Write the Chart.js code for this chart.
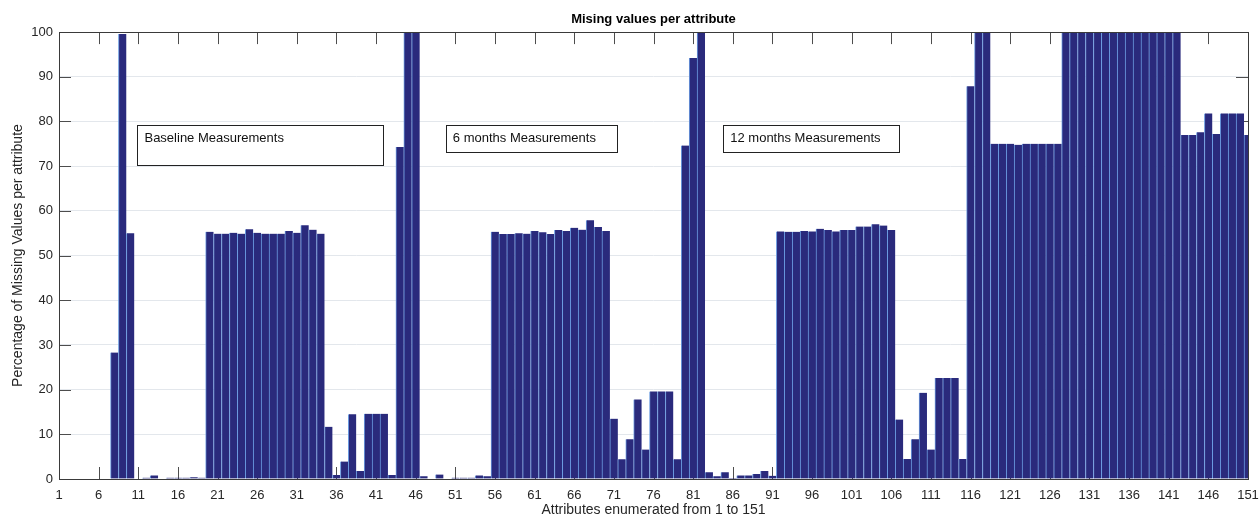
<!DOCTYPE html>
<html lang="en">
<head>
  <meta charset="UTF-8">
  <title>Mising values per attribute</title>
  <script src="https://cdn.jsdelivr.net/npm/chart.js"></script>
  <style>
    body { margin: 0; background: #fff; }
  </style>
</head>
<body>
  <canvas id="missingChart" width="1260" height="521"></canvas>

  <script>
    // attribute numbers 1..151 (x positions)
    const attributes = Array.from({ length: 151 }, (_, i) => i + 1);
    const xTickLabels = [1, 6, 11, 16, 21, 26, 31, 36, 41, 46, 51, 56, 61, 66, 71, 76, 81, 86, 91, 96,
                         101, 106, 111, 116, 121, 126, 131, 136, 141, 146, 151];
    const yTickLabels = [0, 10, 20, 30, 40, 50, 60, 70, 80, 90, 100];

    // percentage of missing values
    const missingPct = [
      0, 0, 0, 0, 0, 0, 0, 28.3, 99.6, 55.0,                       // 1-10
      0, 0.3, 0.8, 0, 0.3, 0.3, 0.3, 0.4, 0.3,                     // 11-19
      55.3, 54.9, 54.9, 55.1, 54.9, 55.9, 55.1, 54.9, 54.9, 54.9,  // 20-29
      55.5, 55.1, 56.8, 55.8, 54.9,                                // 30-34
      11.7, 0.9, 3.9, 14.5, 1.8, 14.6, 14.6, 14.6, 0.9, 74.3, 100, 100, // 35-46
      0.6, 0, 1.0, 0, 0.3, 0.3, 0.3, 0.8, 0.6,                     // 47-55
      55.3, 54.8, 54.8, 55.0, 54.9, 55.5, 55.2, 54.8, 55.7, 55.5,  // 56-65
      56.2, 55.8, 57.9, 56.4, 55.5,                                // 66-70
      13.5, 4.4, 8.9, 17.8, 6.6, 19.6, 19.6, 19.6, 4.4, 74.6, 94.2, 100, // 71-82
      1.5, 0.6, 1.5, 0.2, 0.8, 0.8, 1.1, 1.8, 0.7,                 // 83-91
      55.4, 55.3, 55.3, 55.5, 55.4, 56.0, 55.7, 55.4, 55.7, 55.7,  // 92-101
      56.5, 56.5, 57.0, 56.7, 55.7,                                // 102-106
      13.3, 4.5, 8.9, 19.3, 6.6, 22.6, 22.6, 22.6, 4.5, 87.9, 100, 100, // 107-118
      75.0, 75.0, 75.0, 74.8, 75.0, 75.0, 75.0, 75.0, 75.0,        // 119-127
      100, 100, 100, 100, 100, 100, 100, 100, 100, 100,            // 128-137
      100, 100, 100, 100, 100,                                     // 138-142
      77.0, 77.0, 77.6, 81.8, 77.2, 81.8, 81.8, 81.8, 77.0         // 143-151
    ];

    const boxNotes = [
      { text: 'Baseline Measurements', x0: 10.9, x1: 41.9, y0: 79.3, y1: 70.3 },
      { text: '6 months Measurements', x0: 49.8, x1: 71.4, y0: 79.3, y1: 73.2 },
      { text: '12 months Measurements', x0: 84.8, x1: 107.0, y0: 79.3, y1: 73.2 }
    ];

    const FONT = '"Liberation Sans", Arial, sans-serif';

    // inward ticks on all four sides, drawn under the bars like matlab does
    const innerTicks = {
      id: 'innerTicks',
      beforeDatasetsDraw(chart) {
        const { ctx, chartArea: a, scales: { x, y } } = chart;
        const len = 12;
        ctx.save();
        ctx.strokeStyle = '#4d4d4d';
        ctx.lineWidth = 1;
        ctx.beginPath();
        xTickLabels.forEach(v => {
          const px = Math.round(x.getPixelForValue(v)) + 0.5;
          ctx.moveTo(px, a.bottom); ctx.lineTo(px, a.bottom - len);
          ctx.moveTo(px, a.top); ctx.lineTo(px, a.top + len);
        });
        yTickLabels.forEach(v => {
          const py = Math.round(y.getPixelForValue(v)) + 0.5;
          ctx.moveTo(a.left, py); ctx.lineTo(a.left + len, py);
          ctx.moveTo(a.right, py); ctx.lineTo(a.right - len, py);
        });
        ctx.stroke();
        ctx.restore();
      },
      afterDatasetsDraw(chart) {
        const { ctx, chartArea: a, scales: { x, y } } = chart;
        ctx.save();
        // axes box
        ctx.strokeStyle = '#3a3a3a';
        ctx.lineWidth = 1;
        ctx.strokeRect(Math.round(a.left) + 0.5, Math.round(a.top) + 0.5,
                       Math.round(a.right - a.left), Math.round(a.bottom - a.top));
        // text boxes
        ctx.font = '13px ' + FONT;
        ctx.textBaseline = 'middle';
        boxNotes.forEach(b => {
          const l = x.getPixelForValue(b.x0), r = x.getPixelForValue(b.x1);
          const t = y.getPixelForValue(b.y0), btm = y.getPixelForValue(b.y1);
          ctx.fillStyle = '#fff';
          ctx.fillRect(l, t, r - l, btm - t);
          ctx.strokeStyle = '#222';
          ctx.strokeRect(Math.round(l) + 0.5, Math.round(t) + 0.5, Math.round(r - l), Math.round(btm - t));
          ctx.fillStyle = '#111';
          ctx.fillText(b.text, l + 7, t + 14);
        });
        ctx.restore();
      }
    };

    const ctx = document.getElementById('missingChart').getContext('2d');
    const missingChart = new Chart(ctx, {
      type: 'bar',
      data: {
        datasets: [{
          data: attributes.map((a, i) => ({ x: a, y: missingPct[i] })),
          backgroundColor: '#2a2a7c',
          borderColor: '#6a9ae0',
          borderWidth: { left: 1, right: 0, top: 0, bottom: 0 },
          borderSkipped: false,
          barPercentage: 1,
          categoryPercentage: 1
        }]
      },
      options: {
        responsive: false,
        animation: false,
        layout: { padding: { left: 0, right: 12, top: 0, bottom: 0 } },
        plugins: {
          legend: { display: false },
          tooltip: { enabled: false },
          title: {
            display: true,
            fullSize: false,
            text: 'Mising values per attribute',
            color: '#000',
            font: { family: FONT, size: 13, weight: 'bold' },
            padding: { top: 11.5, bottom: 5 }
          }
        },
        scales: {
          x: {
            type: 'linear',
            min: 1,
            max: 151,
            offset: false,
            afterBuildTicks: s => { s.ticks = xTickLabels.map(v => ({ value: v })); },
            afterFit: s => { s.height = 42; s.paddingLeft = 0; s.paddingRight = 0; },
            grid: { display: false, drawTicks: false },
            border: { display: false },
            ticks: {
              autoSkip: false,
              maxRotation: 0,
              padding: 9,
              color: '#262626',
              font: { family: FONT, size: 13 }
            },
            title: {
              display: true,
              text: 'Attributes enumerated from 1 to 151',
              color: '#262626',
              font: { family: FONT, size: 14 },
              padding: { top: 0, bottom: 2 }
            }
          },
          y: {
            min: 0,
            max: 100,
            afterBuildTicks: s => { s.ticks = yTickLabels.map(v => ({ value: v })); },
            afterFit: s => { s.width = 59; },
            grid: {
              drawTicks: false,
              color: ctx => (ctx.tick && (ctx.tick.value === 0 || ctx.tick.value === 100)) ? 'rgba(0,0,0,0)' : '#e3e7ec'
            },
            border: { display: false },
            ticks: {
              padding: 6,
              color: '#262626',
              font: { family: FONT, size: 13 }
            },
            title: {
              display: true,
              text: 'Percentage of Missing Values per attribute',
              color: '#262626',
              font: { family: FONT, size: 14 },
              padding: { top: 10, bottom: 0 }
            }
          }
        }
      },
      plugins: [innerTicks]
    });
  </script>
</body>
</html>
